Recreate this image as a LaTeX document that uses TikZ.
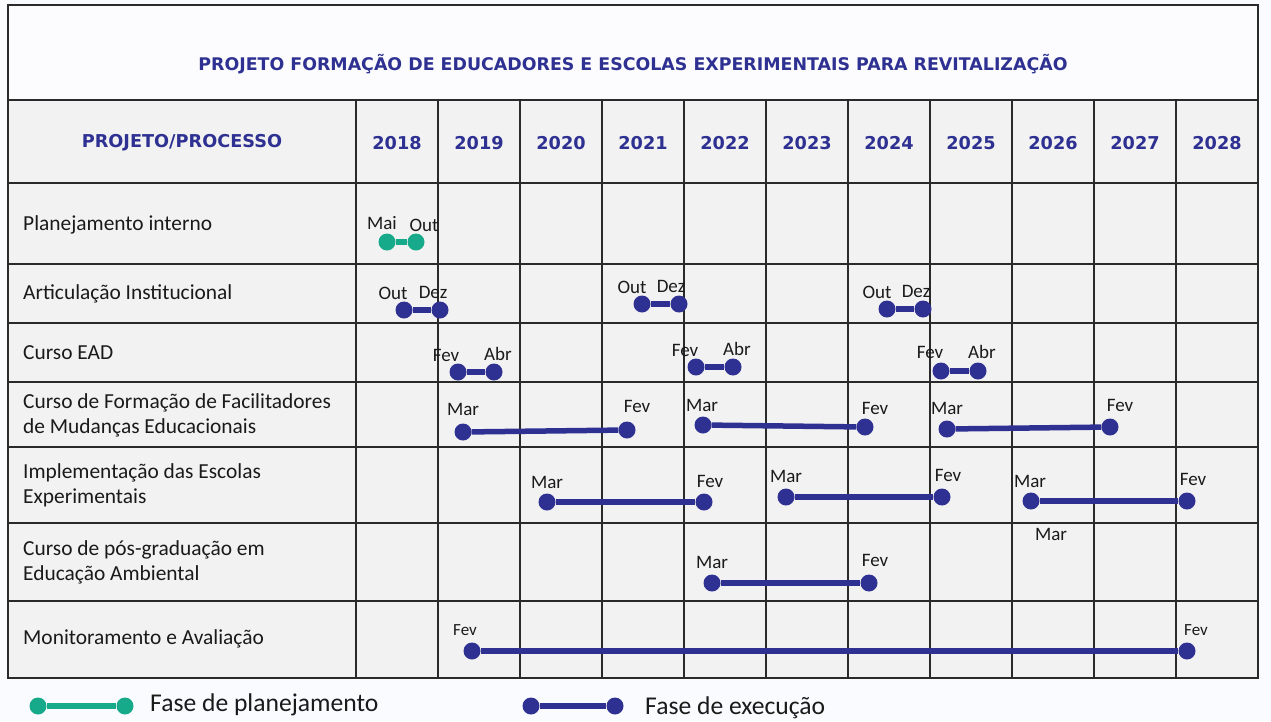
\documentclass[tikz,border=0pt]{standalone}
\usepackage{fontspec}
\setmainfont{Carlito}
\newfontfamily\hdrfont{DejaVu Sans}
\definecolor{navy}{HTML}{2E3192}
\definecolor{exec}{HTML}{2E3192}
\definecolor{plan}{HTML}{16A98A}
\definecolor{cellgrey}{HTML}{F2F2F2}
\definecolor{titlebg}{HTML}{FCFCFF}
\definecolor{pagebg}{HTML}{FAFBFE}
\definecolor{gridc}{HTML}{2A2A2A}
\definecolor{txt}{HTML}{1A1A1A}
\tikzset{
  dotB/.style={circle, fill=exec, inner sep=0pt, minimum size=17pt},
  dotG/.style={dotB, fill=plan},
  barB/.style={exec, line width=5.5pt},
  barG/.style={plan, line width=5.5pt},
  mon/.style={font=\fontsize{19}{21}\selectfont, text=txt, inner sep=0pt},
  monsmall/.style={mon, font=\fontsize{17}{19}\selectfont},
  rowlab/.style={anchor=west, font=\fontsize{21.4}{25}\selectfont, text=txt, align=left, inner sep=0pt},
  hdr/.style={font=\hdrfont\bfseries\fontsize{17.7}{20}\selectfont, text=navy, inner sep=0pt},
  legtext/.style={anchor=west, font=\fontsize{25.6}{30}\selectfont, text=txt, inner sep=0pt},
  grid/.style={gridc, line width=1.6pt}
}
\begin{document}
\begin{tikzpicture}[x=1pt,y=-1pt]
\fill[pagebg] (0,0) rectangle (1271,721);
\useasboundingbox (0,0) rectangle (1271,721);
% table background
\fill[cellgrey] (8,100) rectangle (1258,678);
\fill[titlebg] (8,5) rectangle (1258,100);
% grid
\draw[grid] (8,5) rectangle (1258,678);
\foreach \y in {100,183,264,323,382,447,523,601} \draw[grid] (8,\y) -- (1258,\y);
\foreach \x in {356,438,520,602,684,766,848,930,1012,1094,1176} \draw[grid] (\x,100) -- (\x,678);
% title
\node[hdr, font=\hdrfont\bfseries\fontsize{17.4}{20}\selectfont] (title) at (633,64) {PROJETO FORMAÇÃO DE EDUCADORES E ESCOLAS EXPERIMENTAIS PARA REVITALIZAÇÃO};
% header
\node[hdr] (hproj) at (182,143) {PROJETO/PROCESSO};
\foreach \yr [count=\i from 0] in {2018,2019,2020,2021,2022,2023,2024,2025,2026,2027,2028}
  \node[hdr] (y\yr) at (397+82*\i,143) {\yr};
% row labels
\node[rowlab] (r1) at (23,225) {Planejamento interno};
\node[rowlab] (r2) at (23,294) {Articulação Institucional};
\node[rowlab] (r3) at (23,353) {Curso EAD};
\node[rowlab] (r4) at (23,415) {Curso de Formação de Facilitadores\\de Mudanças Educacionais};
\node[rowlab] (r5) at (23,485) {Implementação das Escolas\\Experimentais};
\node[rowlab] (r6) at (23,562) {Curso de pós-graduação em\\Educação Ambiental};
\node[rowlab] (r7) at (23,639) {Monitoramento e Avaliação};
% row 1 planejamento interno
\node[dotG] (p1a) at (387,242) {};
\node[dotG] (p1b) at (416,242) {};
\draw[barG] (p1a) -- (p1b);
\node[mon] (lp1a) at (382,223) {Mai};
\node[mon] (lp1b) at (424,225) {Out};
% row 2 articulacao
\node[dotB] (a1a) at (404,310) {};
\node[dotB] (a1b) at (440,310) {};
\draw[barB] (a1a) -- (a1b);
\node[mon] (la1a) at (393,293) {Out};
\node[mon] (la1b) at (433,292) {Dez};
\node[dotB] (a2a) at (642,304) {};
\node[dotB] (a2b) at (679,304) {};
\draw[barB] (a2a) -- (a2b);
\node[mon] (la2a) at (632,287) {Out};
\node[mon] (la2b) at (671,286) {Dez};
\node[dotB] (a3a) at (887,309) {};
\node[dotB] (a3b) at (923,309) {};
\draw[barB] (a3a) -- (a3b);
\node[mon] (la3a) at (877,292) {Out};
\node[mon] (la3b) at (916,291) {Dez};
% row 3 curso EAD
\node[dotB] (e1a) at (458,372) {};
\node[dotB] (e1b) at (494,372) {};
\draw[barB] (e1a) -- (e1b);
\node[mon] (le1a) at (446,355) {Fev};
\node[mon] (le1b) at (498,354) {Abr};
\node[dotB] (e2a) at (696,367) {};
\node[dotB] (e2b) at (733,367) {};
\draw[barB] (e2a) -- (e2b);
\node[mon] (le2a) at (685,350) {Fev};
\node[mon] (le2b) at (737,349) {Abr};
\node[dotB] (e3a) at (941,371) {};
\node[dotB] (e3b) at (978,371) {};
\draw[barB] (e3a) -- (e3b);
\node[mon] (le3a) at (930,352) {Fev};
\node[mon] (le3b) at (982,352) {Abr};
% row 4 curso de formacao
\node[dotB] (f1a) at (463,432) {};
\node[dotB] (f1b) at (627,430) {};
\draw[barB] (f1a) -- (f1b);
\node[mon] (lf1a) at (463,409) {Mar};
\node[mon] (lf1b) at (637,406) {Fev};
\node[dotB] (f2a) at (703,425) {};
\node[dotB] (f2b) at (865,427) {};
\draw[barB] (f2a) -- (f2b);
\node[mon] (lf2a) at (702,405) {Mar};
\node[mon] (lf2b) at (875,408) {Fev};
\node[dotB] (f3a) at (947,429) {};
\node[dotB] (f3b) at (1110,427) {};
\draw[barB] (f3a) -- (f3b);
\node[mon] (lf3a) at (947,408) {Mar};
\node[mon] (lf3b) at (1120,405) {Fev};
% row 5 implementacao
\node[dotB] (i1a) at (547,502) {};
\node[dotB] (i1b) at (704,502) {};
\draw[barB] (i1a) -- (i1b);
\node[mon] (li1a) at (547,482) {Mar};
\node[mon] (li1b) at (710,481) {Fev};
\node[dotB] (i2a) at (786,497) {};
\node[dotB] (i2b) at (942,497) {};
\draw[barB] (i2a) -- (i2b);
\node[mon] (li2a) at (786,476) {Mar};
\node[mon] (li2b) at (948,475) {Fev};
\node[dotB] (i3a) at (1031,501) {};
\node[dotB] (i3b) at (1187,501) {};
\draw[barB] (i3a) -- (i3b);
\node[mon] (li3a) at (1030,481) {Mar};
\node[mon] (li3b) at (1193,479) {Fev};
\node[mon] (stray) at (1051,534) {Mar};
% row 6 pos-graduacao
\node[dotB] (g1a) at (712,583) {};
\node[dotB] (g1b) at (869,583) {};
\draw[barB] (g1a) -- (g1b);
\node[mon] (lg1a) at (712,562) {Mar};
\node[mon] (lg1b) at (875,560) {Fev};
% row 7 monitoramento
\node[dotB] (m1a) at (472,651) {};
\node[dotB] (m1b) at (1187,651) {};
\draw[barB] (m1a) -- (m1b);
\node[monsmall] (lm1a) at (465,630) {Fev};
\node[monsmall] (lm1b) at (1196,630) {Fev};
% legend
\node[dotG] (lgA) at (38,706) {};
\node[dotG] (lgB) at (125,706) {};
\draw[barG] (lgA) -- (lgB);
\node[legtext] (lgT) at (150,705) {Fase de planejamento};
\node[dotB] (leA) at (531,706) {};
\node[dotB] (leB) at (615,706) {};
\draw[barB] (leA) -- (leB);
\node[legtext] (leT) at (645,708) {Fase de execução};
\end{tikzpicture}
\end{document}
